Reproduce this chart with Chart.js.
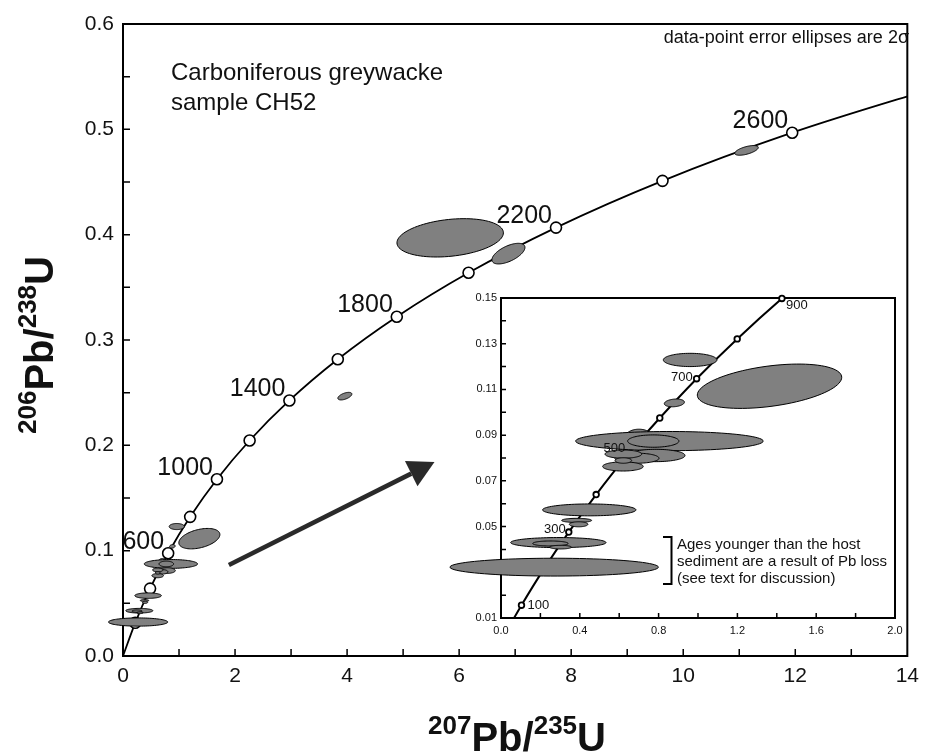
<!DOCTYPE html>
<html>
<head>
<meta charset="utf-8">
<script src="https://cdn.jsdelivr.net/npm/chart.js@4.4.1/dist/chart.umd.min.js"></script>
<style>
  html, body { margin: 0; padding: 0; background: #fff; }
  #wrap { position: relative; width: 927px; height: 754px; overflow: hidden; }
  #main { position: absolute; left: 0; top: 0; width: 927px; height: 754px; }
  #inset { position: absolute; left: 440px; top: 285px; width: 480px; height: 365px; }
</style>
</head>
<body>
<div id="wrap">
  <canvas id="main" width="927" height="754"></canvas>
  <canvas id="inset" width="480" height="365"></canvas>
</div>
<script>
// concordia curve (age in Ma, 207Pb/235U, 206Pb/238U)
const mainAges = [0, 200, 400, 600, 800, 1000, 1200, 1400, 1600, 1800, 2000, 2200, 2400, 2600, 2800];
const mainX = [0, 0.218, 0.483, 0.806, 1.199, 1.677, 2.260, 2.970, 3.834, 4.887, 6.168, 7.729, 9.630, 11.945, 14.76];
const mainY = [0, 0.0315, 0.0640, 0.0975, 0.1321, 0.1678, 0.2046, 0.2426, 0.2817, 0.3221, 0.3638, 0.4067, 0.4511, 0.4968, 0.5437];
const mainLabelAges = [600, 1000, 1400, 1800, 2200, 2600];

const insetAges = [0, 100, 200, 300, 400, 500, 600, 700, 800, 900, 1000];
const insetX = [0, 0.104, 0.218, 0.344, 0.483, 0.636, 0.806, 0.993, 1.199, 1.426, 1.677];
const insetY = [0, 0.0156, 0.0315, 0.0476, 0.0640, 0.0807, 0.0975, 0.1147, 0.1321, 0.1498, 0.1678];
const insetLabelAges = [100, 300, 500, 700, 900];

// zircon analyses: centre, 2 sigma half widths, error correlation (back to front)
const ellX   = [5.84, 6.88, 11.13, 3.96, 1.363, 0.96, 0.88, 0.70, 0.855, 0.773, 0.786, 0.69, 0.621, 0.619, 0.621, 0.448, 0.384, 0.394, 0.291, 0.251, 0.302, 0.27];
const ellY   = [0.397, 0.382, 0.480, 0.2467, 0.1114, 0.1229, 0.1041, 0.0890, 0.0874, 0.0874, 0.0811, 0.0799, 0.0817, 0.0763, 0.0789, 0.0573, 0.0527, 0.0510, 0.0430, 0.0426, 0.0410, 0.03225];
const ellSX  = [0.95, 0.295, 0.21, 0.125, 0.3665, 0.136, 0.051, 0.07, 0.476, 0.13, 0.148, 0.112, 0.093, 0.103, 0.042, 0.237, 0.076, 0.047, 0.242, 0.09, 0.055, 0.529];
const ellSY  = [0.0182, 0.0098, 0.0046, 0.0036, 0.0097, 0.0029, 0.0017, 0.0036, 0.0042, 0.0027, 0.0027, 0.0022, 0.0018, 0.0020, 0.0012, 0.0026, 0.0009, 0.0011, 0.0022, 0.0011, 0.0008, 0.0039];
const ellRho = [0.26, 0.6, 0.6, 0.55, 0.4, 0, 0.2, 0, 0, 0, 0, 0, 0, 0, 0, 0, 0, 0, 0, 0, 0, 0];

// tick labels (0.03 in the inset sits under an ellipse and is not shown)
const mainXTickLabels = ['0', '2', '4', '6', '8', '10', '12', '14'];
const mainYTickLabels = ['0.0', '0.1', '0.2', '0.3', '0.4', '0.5', '0.6'];
const insetXTickLabels = ['0.0', '0.4', '0.8', '1.2', '1.6', '2.0'];
const insetYTickLabels = ['0.01', '0.05', '0.07', '0.09', '0.11', '0.13', '0.15'];

// arrow pointing at the inset (data coords)
const arrowFrom = [1.89, 0.0864];
const arrowTo = [5.56, 0.1842];

const FONT = "'Liberation Sans', Arial, sans-serif";
const INK = '#111';

function pickLabel(list, v) {
  return list.find(l => Math.abs(parseFloat(l) - v) < 1e-7) || '';
}

function drawFrame(chart, lw) {
  const { ctx, chartArea: a } = chart;
  ctx.save();
  ctx.strokeStyle = '#000';
  ctx.lineWidth = lw;
  ctx.strokeRect(a.left, a.top, a.right - a.left, a.bottom - a.top);
  ctx.restore();
}

// ticks pointing into the plot, on the left and bottom axes
function drawInnerTicks(chart, len, lw) {
  const { ctx, chartArea: a, scales } = chart;
  ctx.save();
  ctx.strokeStyle = '#000';
  ctx.lineWidth = lw;
  ctx.beginPath();
  scales.x.ticks.forEach(t => {
    const px = scales.x.getPixelForValue(t.value);
    if (px <= a.left + 1 || px >= a.right - 1) return;
    ctx.moveTo(px, a.bottom);
    ctx.lineTo(px, a.bottom - len);
  });
  scales.y.ticks.forEach(t => {
    const py = scales.y.getPixelForValue(t.value);
    if (py <= a.top + 1 || py >= a.bottom - 1) return;
    ctx.moveTo(a.left, py);
    ctx.lineTo(a.left + len, py);
  });
  ctx.stroke();
  ctx.restore();
}

function drawEllipses(chart, keep) {
  const { ctx, scales: { x, y } } = chart;
  ctx.save();
  ctx.fillStyle = '#808080';
  ctx.strokeStyle = '#000';
  ctx.lineWidth = 1;
  for (let i = 0; i < ellX.length; i++) {
    if (!keep(i)) continue;
    const r = ellRho[i], q = Math.sqrt(1 - r * r);
    ctx.beginPath();
    for (let k = 0; k <= 90; k++) {
      const t = k / 90 * 2 * Math.PI;
      const px = x.getPixelForValue(ellX[i] + ellSX[i] * Math.cos(t));
      const py = y.getPixelForValue(ellY[i] + ellSY[i] * (r * Math.cos(t) + q * Math.sin(t)));
      if (k === 0) ctx.moveTo(px, py); else ctx.lineTo(px, py);
    }
    ctx.closePath();
    ctx.fill();
    ctx.stroke();
  }
  ctx.restore();
}

// text with superscript isotope numbers, centred on (cx, base)
function drawIsotopeTitle(ctx, parts, cx, base) {
  const big = 'bold 40px ' + FONT, small = 'bold 26px ' + FONT;
  let w = 0;
  parts.forEach(p => { ctx.font = p[1] ? small : big; w += ctx.measureText(p[0]).width; });
  let xx = cx - w / 2;
  ctx.textAlign = 'left';
  ctx.textBaseline = 'alphabetic';
  parts.forEach(p => {
    ctx.font = p[1] ? small : big;
    ctx.fillText(p[0], xx, p[1] ? base - 17 : base);
    xx += ctx.measureText(p[0]).width;
  });
}

const mainDecor = {
  id: 'mainDecor',
  beforeDatasetsDraw(chart) {
    drawFrame(chart, 2);
    drawInnerTicks(chart, 7, 1.5);
  },
  afterDatasetsDraw(chart) {
    const { ctx, scales: { x, y } } = chart;
    drawEllipses(chart, () => true);

    ctx.save();
    ctx.fillStyle = INK;
    // age labels
    ctx.font = '25px ' + FONT;
    ctx.textAlign = 'right';
    ctx.textBaseline = 'alphabetic';
    mainLabelAges.forEach(age => {
      const i = mainAges.indexOf(age);
      ctx.fillText(String(age), x.getPixelForValue(mainX[i]) - 4, y.getPixelForValue(mainY[i]) - 4.5);
    });

    // sample name and note
    ctx.textAlign = 'left';
    ctx.font = '24px ' + FONT;
    ctx.fillText('Carboniferous greywacke', 171, 79.5);
    ctx.fillText('sample CH52', 171, 110);
    ctx.textAlign = 'right';
    ctx.font = '18px ' + FONT;
    ctx.fillText('data-point error ellipses are 2\u03c3', 909, 43);

    // arrow
    const x0 = x.getPixelForValue(arrowFrom[0]), y0 = y.getPixelForValue(arrowFrom[1]);
    const x1 = x.getPixelForValue(arrowTo[0]), y1 = y.getPixelForValue(arrowTo[1]);
    const ang = Math.atan2(y1 - y0, x1 - x0);
    const hl = 26, hw = 14;
    const bx = x1 - hl * Math.cos(ang), by = y1 - hl * Math.sin(ang);
    ctx.strokeStyle = '#2a2a2a';
    ctx.fillStyle = '#2a2a2a';
    ctx.lineWidth = 4.5;
    ctx.beginPath();
    ctx.moveTo(x0, y0);
    ctx.lineTo(bx, by);
    ctx.stroke();
    ctx.beginPath();
    ctx.moveTo(x1, y1);
    ctx.lineTo(bx + hw * Math.sin(ang), by - hw * Math.cos(ang));
    ctx.lineTo(bx - hw * Math.sin(ang), by + hw * Math.cos(ang));
    ctx.closePath();
    ctx.fill();

    // axis titles
    ctx.fillStyle = INK;
    drawIsotopeTitle(ctx, [['207', true], ['Pb/', false], ['235', true], ['U', false]], 517, 751);
    ctx.translate(53, 345);
    ctx.rotate(-Math.PI / 2);
    drawIsotopeTitle(ctx, [['206', true], ['Pb/', false], ['238', true], ['U', false]], 0, 0);
    ctx.restore();
  }
};

// label placement next to the inset age markers: [dx, dy, align, baseline]
const insetLabelPos = {
  100: [6, 0, 'left', 'middle'],
  300: [-3, 1, 'right', 'alphabetic'],
  500: [-1, -4.5, 'right', 'alphabetic'],
  700: [-4, 2, 'right', 'alphabetic'],
  900: [4, 11, 'left', 'alphabetic']
};

const insetDecor = {
  id: 'insetDecor',
  beforeDraw(chart) {
    const { ctx, chartArea: a } = chart;
    ctx.save();
    ctx.fillStyle = '#fff';
    ctx.fillRect(a.left, a.top, a.right - a.left, a.bottom - a.top);
    ctx.restore();
  },
  beforeDatasetsDraw(chart) {
    drawFrame(chart, 2);
    drawInnerTicks(chart, 5, 1.5);
  },
  afterDatasetsDraw(chart) {
    const { ctx, scales: { x, y } } = chart;
    drawEllipses(chart, i => ellX[i] < 2 && ellY[i] < 0.15);

    ctx.save();
    ctx.fillStyle = INK;
    ctx.font = '13px ' + FONT;
    insetLabelAges.forEach(age => {
      const i = insetAges.indexOf(age);
      const p = insetLabelPos[age];
      ctx.textAlign = p[2];
      ctx.textBaseline = p[3];
      ctx.fillText(String(age), x.getPixelForValue(insetX[i]) + p[0], y.getPixelForValue(insetY[i]) + p[1]);
    });

    // bracket + note
    ctx.strokeStyle = '#000';
    ctx.lineWidth = 2;
    ctx.beginPath();
    ctx.moveTo(223, 252);
    ctx.lineTo(231.5, 252);
    ctx.lineTo(231.5, 299);
    ctx.lineTo(223, 299);
    ctx.stroke();
    ctx.font = '15px ' + FONT;
    ctx.textAlign = 'left';
    ctx.textBaseline = 'alphabetic';
    ctx.fillText('Ages younger than the host', 237, 263.5);
    ctx.fillText('sediment are a result of Pb loss', 237, 280.5);
    ctx.fillText('(see text for discussion)', 237, 297.5);
    ctx.restore();
  }
};

function axis(min, max, step, labels, size, pad, fit) {
  return {
    type: 'linear', min, max,
    grid: { display: false, drawTicks: false },
    border: { display: false },
    ticks: {
      stepSize: step, autoSkip: false, maxRotation: 0, padding: pad,
      color: INK, font: { family: FONT, size },
      callback: v => pickLabel(labels, v)
    },
    afterFit: fit
  };
}

function curveData(xs, ys) {
  return xs.map((v, i) => ({ x: v, y: ys[i] }));
}

function markerData(ages, xs, ys, xmax, ymax) {
  return curveData(xs, ys).filter((p, i) => ages[i] > 0 && p.x <= xmax && p.y <= ymax);
}

const common = {
  responsive: false,
  animation: false,
  events: [],
  plugins: { legend: { display: false }, tooltip: { enabled: false } }
};

new Chart(document.getElementById('main'), {
  type: 'scatter',
  data: {
    datasets: [
      { data: curveData(mainX, mainY), showLine: true, borderColor: '#000', borderWidth: 1.8,
        pointRadius: 0, cubicInterpolationMode: 'monotone', order: 2 },
      { data: markerData(mainAges, mainX, mainY, 14, 0.6), showLine: false, pointRadius: 5.5,
        pointBackgroundColor: '#fff', pointBorderColor: '#000', pointBorderWidth: 1.6, clip: false, order: 1 }
    ]
  },
  options: Object.assign({}, common, {
    layout: { padding: { left: 0, top: 24, right: 13, bottom: 0 } },
    scales: {
      x: axis(0, 14, 1, mainXTickLabels, 21, 8, s => { s.height = 98; }),
      y: axis(0, 0.6, 0.05, mainYTickLabels, 21, 9, s => { s.width = 123; })
    }
  }),
  plugins: [mainDecor]
});

new Chart(document.getElementById('inset'), {
  type: 'scatter',
  data: {
    datasets: [
      { data: curveData(insetX, insetY), showLine: true, borderColor: '#000', borderWidth: 2,
        pointRadius: 0, cubicInterpolationMode: 'monotone', order: 2 },
      { data: markerData(insetAges, insetX, insetY, 2, 0.15), showLine: false, pointRadius: 2.8,
        pointBackgroundColor: '#fff', pointBorderColor: '#000', pointBorderWidth: 1.8, clip: false, order: 1 }
    ]
  },
  options: Object.assign({}, common, {
    layout: { padding: { left: 0, top: 13, right: 25, bottom: 0 } },
    scales: {
      x: axis(0, 2, 0.2, insetXTickLabels, 11, 6, s => { s.height = 32; }),
      y: axis(0.01, 0.15, 0.01, insetYTickLabels, 11, 4, s => { s.width = 61; })
    }
  }),
  plugins: [insetDecor]
});
</script>
</body>
</html>
